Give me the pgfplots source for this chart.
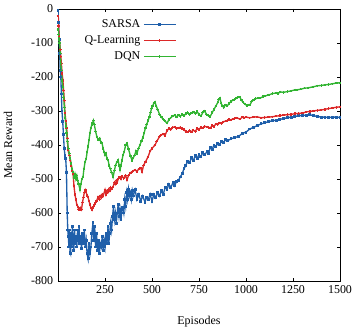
\documentclass[border=0pt]{standalone}
\usepackage{fontspec}
\setmainfont{Liberation Serif}
\usepackage{pgfplots}
\pgfplotsset{compat=1.18}
\definecolor{cblue}{RGB}{31,95,170}
\definecolor{cred}{RGB}{220,40,40}
\definecolor{cgreen}{RGB}{50,180,50}
\begin{document}
\begin{tikzpicture}
\begin{axis}[name=ax,
  scale only axis, width=70.5mm, height=68mm,
  xmin=0, xmax=1500, ymin=-800, ymax=0,
  xtick={250,500,...,1500}, ytick={-800,-700,...,0},
  tick align=inside, major tick length=0.8mm,
  xtick pos=both, ytick pos=both,
  axis line style={line width=0.6pt},
  every tick/.style={black, line width=0.5pt},
  /pgf/number format/assume math mode=true,
  /pgf/number format/1000 sep={},
  font=\fontsize{8.5}{10}\selectfont,
  tick label style={font=\fontsize{8.5}{10}\selectfont},
  xlabel={Episodes}, ylabel={Mean Reward},
  xlabel style={at={(axis description cs:0.5,-0.151)}, anchor=center},
  ylabel style={at={(axis description cs:-0.177,0.5)}, anchor=center},
  legend style={draw=none, fill=none, at={(axis description cs:0.426,0.978)}, anchor=north east,
    font=\fontsize{8.5}{10}\selectfont, row sep=0.3pt, inner sep=1pt},
  legend cell align=right, legend plot pos=right,
  legend image code/.code={\draw[#1, mark repeat=2, mark phase=2] plot coordinates {(0cm,0cm) (0.4cm,0cm) (0.8cm,0cm)};},
]
\addplot[cblue, line width=0.95pt, mark=square*, mark size=0.55pt] coordinates {
(0,-5)(3,-40)(6,-90)(9,-130)(12,-180)(15,-200)(18,-250)(21,-300)(25,-330)(29,-370)(33,-410)(37,-430)(41,-440)(45,-480)(49,-600)(52,-650)(55,-670)(58,-700)(61,-650)(64,-715)(67,-720)(70,-660)(73,-700)(76,-640)(80,-680)(84,-710)(88,-650)(92,-690)(96,-670)(100,-700)(104,-650)(108,-680)(112,-640)(116,-690)(120,-670)(125,-705)(130,-660)(135,-690)(140,-650)(145,-700)(150,-680)(155,-720)(160,-735)(165,-690)(170,-720)(175,-700)(180,-660)(186,-629)(190,-680)(195,-640)(200,-700)(205,-660)(210,-710)(215,-680)(220,-720)(225,-690)(230,-700)(235,-670)(240,-710)(245,-680)(250,-700)(255,-660)(260,-690)(266,-641)(270,-690)(275,-660)(280,-630)(285,-650)(290,-610)(295,-582)(300,-620)(305,-600)(310,-630)(315,-600)(320,-575)(325,-610)(330,-590)(335,-620)(340,-591)(345,-585)(350,-600)(355,-560)(360,-580)(365,-541)(370,-560)(375,-530)(380,-550)(385,-540)(390,-560)(395,-535)(400,-550)(410,-532)(420,-560)(430,-545)(440,-565)(450,-550)(463,-568)(470,-555)(480,-560)(490,-545)(500,-565)(510,-545)(520,-555)(530,-540)(540,-550)(550,-535)(560,-545)(570,-525)(580,-530)(590,-515)(600,-525)(612,-510)(620,-520)(630,-508)(640,-505)(650,-494)(660,-485)(670,-470)(680,-460)(690,-448)(700,-452)(710,-438)(720,-445)(730,-432)(740,-440)(750,-428)(760,-435)(770,-422)(780,-428)(793,-420)(800,-425)(810,-408)(820,-412)(830,-400)(840,-405)(850,-395)(860,-398)(870,-390)(880,-393)(890,-385)(900,-388)(920,-382)(940,-378)(960,-375)(980,-366)(1000,-362)(1020,-353)(1040,-348)(1060,-343)(1080,-338)(1100,-335)(1120,-331)(1140,-329)(1160,-327)(1180,-325)(1200,-322)(1220,-320)(1240,-318)(1260,-316)(1280,-314)(1300,-313)(1320,-312)(1340,-311)(1360,-314)(1380,-316)(1400,-318)(1420,-318)(1440,-319)(1460,-318)(1480,-318)(1500,-319)
};
\addlegendentry{SARSA}
\addplot[cred, line width=0.95pt, mark=+, mark size=0.9pt] coordinates {
(0,-20)(3,-50)(6,-80)(9,-100)(12,-120)(15,-140)(18,-160)(22,-190)(26,-210)(30,-240)(34,-270)(37,-306)(42,-330)(46,-350)(50,-380)(53,-415)(60,-430)(65,-445)(70,-460)(75,-475)(80,-485)(85,-520)(90,-545)(95,-560)(100,-575)(106,-582)(110,-590)(117,-591)(120,-585)(125,-590)(130,-570)(135,-555)(140,-540)(145,-532)(150,-540)(155,-548)(160,-553)(165,-565)(170,-575)(175,-585)(181,-591)(185,-585)(190,-580)(195,-575)(200,-570)(205,-565)(213,-553)(220,-560)(225,-550)(230,-555)(235,-545)(240,-550)(250,-532)(255,-545)(260,-535)(265,-540)(270,-530)(275,-535)(280,-525)(285,-530)(293,-523)(300,-510)(305,-515)(310,-505)(315,-510)(320,-500)(325,-495)(330,-494)(335,-500)(340,-492)(350,-498)(360,-490)(367,-503)(375,-490)(385,-482)(395,-478)(410,-473)(420,-478)(430,-470)(440,-468)(447,-479)(455,-460)(465,-450)(479,-435)(490,-418)(500,-410)(516,-400)(525,-390)(540,-375)(550,-370)(560,-368)(569,-372)(580,-358)(590,-352)(600,-355)(610,-348)(622,-347)(630,-352)(640,-350)(650,-348)(660,-352)(670,-355)(680,-360)(690,-362)(700,-358)(710,-362)(718,-356)(730,-360)(740,-352)(750,-355)(760,-348)(770,-350)(780,-345)(793,-347)(800,-348)(810,-350)(820,-343)(830,-345)(840,-338)(850,-340)(860,-335)(870,-337)(878,-332)(890,-330)(900,-328)(910,-325)(920,-326)(930,-324)(940,-322)(950,-320)(968,-324)(980,-318)(990,-320)(1000,-318)(1020,-320)(1040,-318)(1059,-317)(1080,-320)(1100,-319)(1120,-318)(1140,-317)(1160,-315)(1180,-314)(1200,-312)(1220,-311)(1240,-310)(1260,-308)(1280,-307)(1300,-306)(1320,-303)(1340,-301)(1360,-300)(1380,-298)(1400,-297)(1420,-295)(1440,-293)(1460,-291)(1480,-289)(1500,-288)
};
\addlegendentry{Q-Learning}
\addplot[cgreen, line width=0.95pt, mark=+, mark size=0.9pt] coordinates {
(0,-60)(3,-75)(6,-90)(9,-100)(12,-130)(15,-160)(18,-180)(22,-210)(26,-230)(30,-260)(34,-290)(38,-320)(42,-345)(46,-365)(50,-390)(55,-410)(60,-425)(65,-440)(70,-455)(75,-470)(80,-480)(85,-495)(90,-485)(95,-500)(100,-490)(105,-505)(110,-515)(117,-532)(122,-515)(127,-500)(133,-494)(138,-470)(144,-450)(150,-440)(155,-420)(160,-405)(165,-385)(170,-365)(175,-350)(180,-340)(184,-335)(188,-328)(193,-340)(200,-360)(207,-376)(215,-385)(222,-380)(228,-392)(234,-394)(240,-410)(245,-420)(250,-430)(256,-425)(260,-440)(266,-444)(272,-460)(278,-470)(285,-480)(293,-494)(300,-475)(306,-460)(313,-450)(320,-444)(325,-460)(330,-473)(335,-460)(340,-445)(346,-430)(352,-420)(360,-400)(367,-395)(375,-412)(385,-432)(394,-445)(400,-438)(408,-430)(414,-418)(420,-425)(428,-410)(436,-400)(444,-388)(452,-378)(458,-365)(465,-350)(472,-340)(479,-328)(486,-318)(492,-305)(498,-292)(504,-285)(510,-276)(516,-273)(522,-285)(530,-295)(540,-310)(550,-318)(560,-325)(570,-330)(580,-336)(590,-325)(600,-320)(610,-315)(622,-312)(630,-318)(640,-312)(650,-316)(660,-310)(670,-314)(680,-308)(690,-305)(700,-310)(710,-306)(720,-303)(730,-308)(740,-302)(750,-310)(760,-315)(770,-305)(780,-300)(790,-310)(800,-314)(809,-317)(820,-305)(830,-295)(840,-285)(850,-275)(855,-266)(862,-262)(868,-278)(875,-285)(882,-290)(890,-282)(900,-285)(910,-278)(920,-272)(930,-268)(940,-266)(950,-262)(958,-259)(968,-259)(975,-268)(985,-275)(995,-280)(1005,-284)(1012,-282)(1021,-282)(1030,-272)(1040,-268)(1050,-264)(1064,-262)(1075,-262)(1090,-258)(1100,-256)(1120,-253)(1140,-249)(1160,-247)(1170,-249)(1181,-244)(1200,-245)(1220,-243)(1240,-241)(1260,-238)(1271,-238)(1290,-236)(1310,-233)(1330,-232)(1357,-229)(1380,-226)(1400,-225)(1420,-223)(1440,-222)(1460,-220)(1480,-218)(1500,-217)
};
\addlegendentry{DQN}
\end{axis}
\pgfresetboundingbox
\path ([shift={(-14.5mm,-13mm)}]ax.south west) rectangle ([shift={(3.5mm,2.25mm)}]ax.north east);
\end{tikzpicture}
\end{document}
